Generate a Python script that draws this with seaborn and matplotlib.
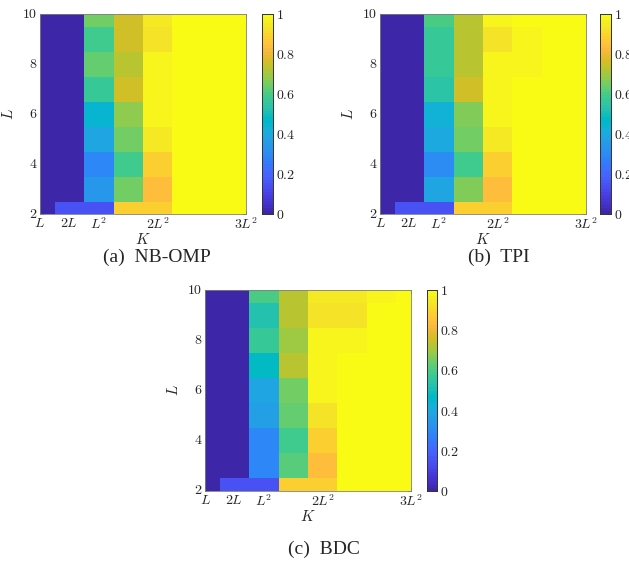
import numpy as np
import pandas as pd
import matplotlib
matplotlib.use("Agg")
import matplotlib.pyplot as plt
from matplotlib.colors import ListedColormap
import seaborn as sns

# ---------------- data ----------------
L_values = [2, 3, 4, 5, 6, 7, 8, 9, 10]
K_index = [1, 2, 3, 4, 5, 6, 7, 8]
K_tick_index = [1, 2, 3, 5, 8]
K_tick_labels = ["$L$", "$2L$", "$L^2$", "$2L^2$", "$3L^2$"]
L_ticks = [2, 4, 6, 8, 10]
cbar_ticks = [0, 0.2, 0.4, 0.6, 0.8, 1]
cbar_labels = ["$0$", "$0.2$", "$0.4$", "$0.6$", "$0.8$", "$1$"]

# rows: L = 2..10 ; columns: K index 1..8
nbomp = [
    [0, 0.15, 0.15, 0.88, 0.88, 1, 1, 1],
    [0, 0, 0.33, 0.65, 0.84, 1, 1, 1],
    [0, 0, 0.29, 0.59, 0.89, 1, 1, 1],
    [0, 0, 0.38, 0.65, 0.94, 1, 1, 1],
    [0, 0, 0.45, 0.68, 0.97, 1, 1, 1],
    [0, 0, 0.57, 0.76, 0.97, 1, 1, 1],
    [0, 0, 0.63, 0.73, 0.97, 1, 1, 1],
    [0, 0, 0.59, 0.75, 0.93, 1, 1, 1],
    [0, 0, 0.65, 0.75, 0.94, 1, 1, 1],
]
tpi = [
    [0, 0.15, 0.15, 0.88, 0.88, 1, 1, 1],
    [0, 0, 0.38, 0.67, 0.84, 1, 1, 1],
    [0, 0, 0.30, 0.59, 0.89, 1, 1, 1],
    [0, 0, 0.40, 0.65, 0.94, 1, 1, 1],
    [0, 0, 0.43, 0.67, 0.97, 1, 1, 1],
    [0, 0, 0.54, 0.76, 0.97, 1, 1, 1],
    [0, 0, 0.57, 0.73, 0.98, 0.98, 1, 1],
    [0, 0, 0.57, 0.72, 0.93, 0.98, 1, 1],
    [0, 0, 0.60, 0.72, 0.97, 1, 1, 1],
]
bdc = [
    [0, 0.15, 0.15, 0.88, 0.88, 1, 1, 1],
    [0, 0, 0.29, 0.62, 0.84, 1, 1, 1],
    [0, 0, 0.29, 0.58, 0.89, 1, 1, 1],
    [0, 0, 0.36, 0.64, 0.93, 1, 1, 1],
    [0, 0, 0.39, 0.65, 0.97, 1, 1, 1],
    [0, 0, 0.47, 0.72, 0.97, 1, 1, 1],
    [0, 0, 0.57, 0.70, 0.97, 0.97, 1, 1],
    [0, 0, 0.53, 0.72, 0.93, 0.93, 1, 1],
    [0, 0, 0.60, 0.72, 0.95, 0.95, 0.97, 1],
]
captions = ["(a)  NB-OMP", "(b)  TPI", "(c)  BDC"]

# ---------------- parula colormap ----------------
_parula = [
    [0.2422, 0.1504, 0.6603], [0.2504, 0.1650, 0.7076], [0.2578, 0.1818, 0.7511],
    [0.2647, 0.1978, 0.7952], [0.2706, 0.2147, 0.8364], [0.2751, 0.2342, 0.8710],
    [0.2783, 0.2559, 0.8991], [0.2803, 0.2782, 0.9221], [0.2813, 0.3006, 0.9414],
    [0.2810, 0.3228, 0.9579], [0.2795, 0.3447, 0.9717], [0.2760, 0.3667, 0.9829],
    [0.2699, 0.3892, 0.9906], [0.2602, 0.4123, 0.9952], [0.2440, 0.4358, 0.9988],
    [0.2206, 0.4603, 0.9973], [0.1963, 0.4847, 0.9892], [0.1834, 0.5074, 0.9798],
    [0.1786, 0.5289, 0.9682], [0.1764, 0.5499, 0.9520], [0.1687, 0.5703, 0.9359],
    [0.1540, 0.5902, 0.9218], [0.1460, 0.6091, 0.9079], [0.1380, 0.6276, 0.8973],
    [0.1248, 0.6459, 0.8883], [0.1113, 0.6635, 0.8763], [0.0952, 0.6798, 0.8598],
    [0.0689, 0.6948, 0.8394], [0.0297, 0.7082, 0.8163], [0.0036, 0.7203, 0.7917],
    [0.0067, 0.7312, 0.7660], [0.0433, 0.7411, 0.7394], [0.0964, 0.7500, 0.7120],
    [0.1408, 0.7584, 0.6842], [0.1717, 0.7670, 0.6554], [0.1938, 0.7758, 0.6251],
    [0.2161, 0.7843, 0.5923], [0.2470, 0.7918, 0.5567], [0.2906, 0.7973, 0.5188],
    [0.3406, 0.8008, 0.4789], [0.3909, 0.8029, 0.4354], [0.4456, 0.8024, 0.3909],
    [0.5044, 0.7993, 0.3480], [0.5616, 0.7942, 0.3045], [0.6174, 0.7876, 0.2612],
    [0.6720, 0.7793, 0.2227], [0.7242, 0.7698, 0.1910], [0.7738, 0.7598, 0.1646],
    [0.8203, 0.7498, 0.1535], [0.8634, 0.7406, 0.1596], [0.9035, 0.7330, 0.1774],
    [0.9393, 0.7288, 0.2100], [0.9728, 0.7298, 0.2394], [0.9956, 0.7434, 0.2371],
    [0.9970, 0.7659, 0.2199], [0.9952, 0.7893, 0.2028], [0.9892, 0.8136, 0.1885],
    [0.9786, 0.8386, 0.1766], [0.9676, 0.8639, 0.1643], [0.9610, 0.8890, 0.1537],
    [0.9597, 0.9135, 0.1423], [0.9628, 0.9373, 0.1265], [0.9691, 0.9606, 0.1064],
    [0.9769, 0.9839, 0.0805],
]
parula = ListedColormap(_parula, name="parula")

# ---------------- figure ----------------
sns.set_style("white")
plt.rcParams["mathtext.fontset"] = "cm"
plt.rcParams["font.family"] = ["Liberation Serif", "DejaVu Serif"]

W, H = 629, 565
fig = plt.figure(figsize=(W / 100, H / 100), dpi=100)


def px_axes(x0, y0, x1, y1):
    return fig.add_axes([x0 / W, 1 - y1 / H, (x1 - x0) / W, (y1 - y0) / H])


panels = [
    (nbomp, (40, 14, 246, 214), (262, 14, 273, 214), 157, 257),
    (tpi, (380, 14, 586, 214), (600, 14, 611, 214), 499, 257),
    (bdc, (205, 290, 411, 491), (427, 290, 437, 491), 324, 549),
]

edge = "#7f7f7f"
for (vals, abox, cbox, cx, cy), cap in zip(panels, captions):
    ax = px_axes(*abox)
    cax = px_axes(*cbox)
    df = pd.DataFrame(vals, index=L_values, columns=K_index).iloc[::-1]
    sns.heatmap(df, ax=ax, cbar_ax=cax, cmap=parula, vmin=0, vmax=1,
                cbar_kws={"ticks": cbar_ticks})
    nrows = len(L_values)
    ax.set_xlim(0.5, len(K_index) - 0.5)
    ax.set_ylim(nrows - 0.5, 0.5)
    ax.set_xticks([K_index.index(k) + 0.5 for k in K_tick_index])
    ax.set_xticklabels(K_tick_labels, rotation=0, fontsize=10)
    ax.set_yticks([nrows - 1 - L_values.index(l) + 0.5 for l in L_ticks])
    ax.set_yticklabels([f"${l}$" for l in L_ticks], rotation=0, fontsize=10)
    ax.tick_params(direction="in", length=3, width=0.5, color=edge, pad=2,
                   top=True, right=True, bottom=True, left=True)
    for s in ax.spines.values():
        s.set_visible(True)
        s.set_color(edge)
        s.set_linewidth(0.6)
    ax.set_xlabel("$K$", fontsize=11, labelpad=0)
    ax.set_ylabel("$L$", fontsize=11, labelpad=4)

    cax.set_yticklabels(cbar_labels, fontsize=10)
    cax.tick_params(direction="in", length=3, width=0.5, color="#333333", pad=2)
    for s in cax.spines.values():
        s.set_visible(True)
        s.set_color("#333333")
        s.set_linewidth(0.6)

    fig.text(cx / W, 1 - cy / H, cap, ha="center", va="center", fontsize=14)

fig.savefig("out.png", dpi=100)
